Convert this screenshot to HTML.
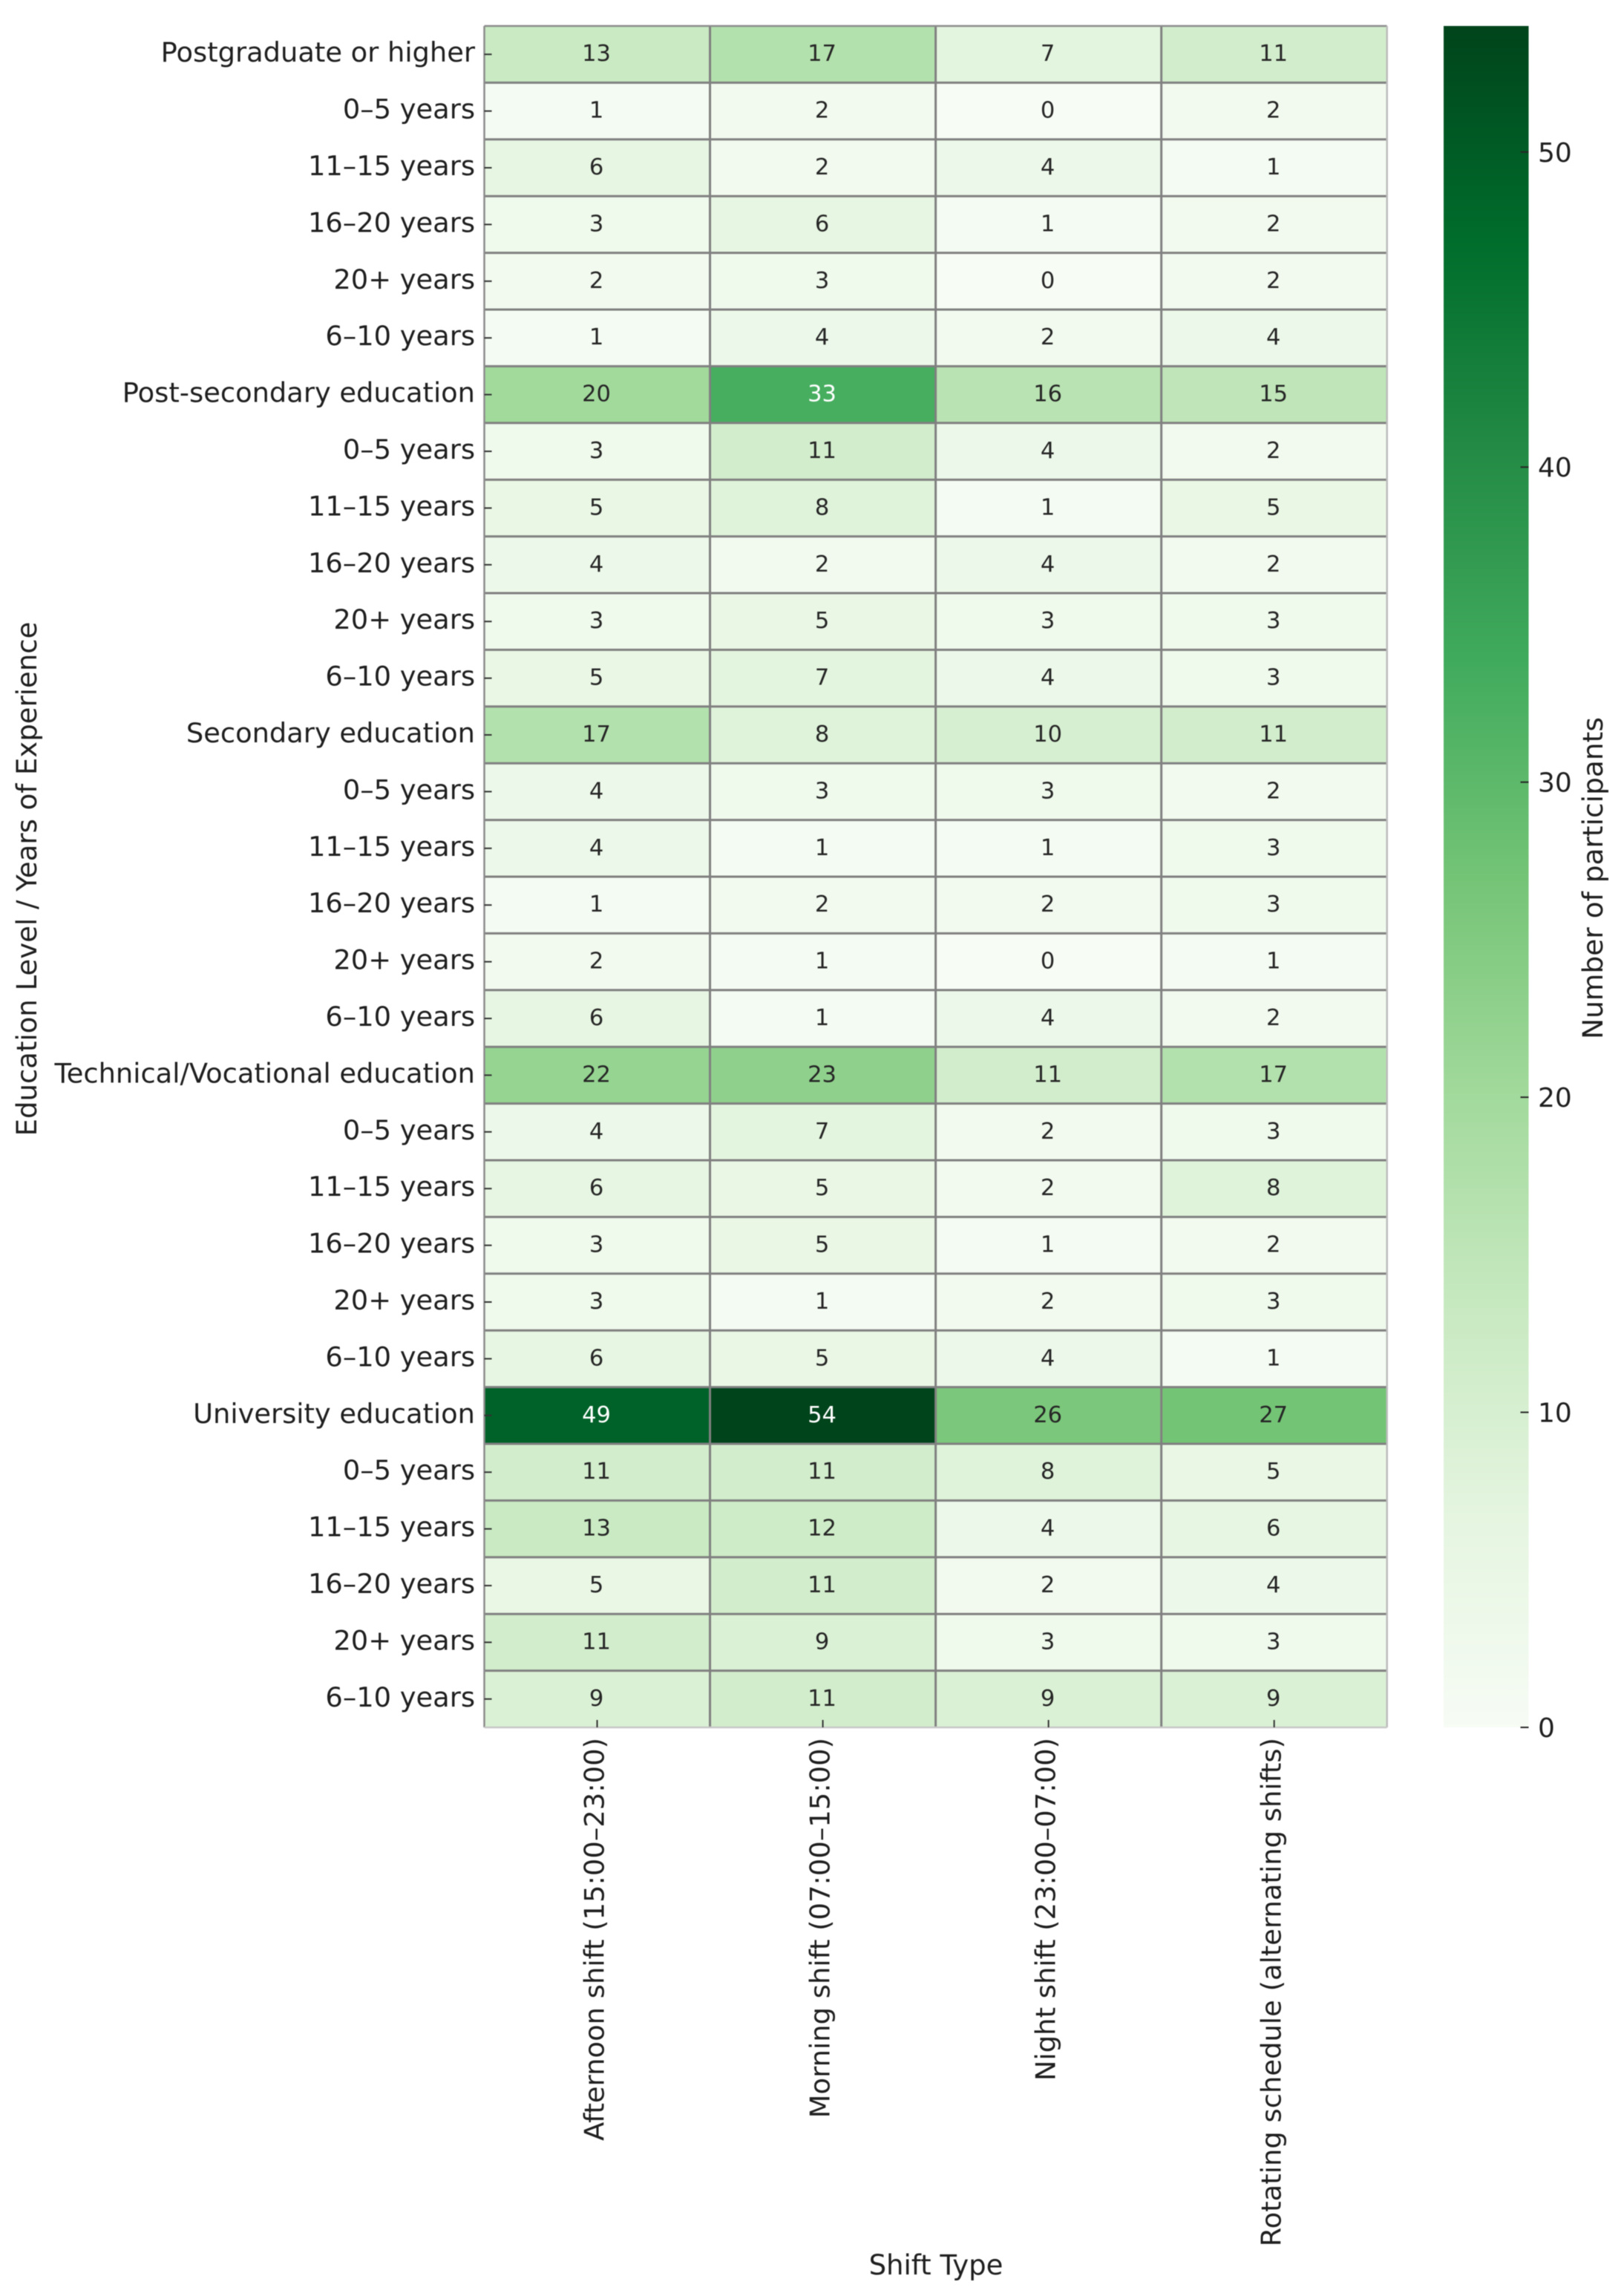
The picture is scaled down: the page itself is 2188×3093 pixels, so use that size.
<!DOCTYPE html>
<html lang="en">
<head>
<meta charset="utf-8">
<title>Participants by Education Level, Experience and Shift Type</title>
<style>
  html, body { margin: 0; padding: 0; background: #ffffff; }
  body { width: 2188px; height: 3093px; overflow: hidden; }
  svg { display: block; filter: blur(0.6px); }
  text { font-family: "DejaVu Sans", "Liberation Sans", sans-serif; fill: #1f1f1f; }
</style>
</head>
<body>
<svg id="chart" xmlns="http://www.w3.org/2000/svg" width="2188" height="3093" viewBox="0 0 2188 3093">
  <defs>
    <linearGradient id="colorbar-gradient" x1="0" y1="1" x2="0" y2="0"></linearGradient>
  </defs>
  <rect x="0" y="0" width="2188" height="3093" fill="#ffffff"></rect>
  <g id="cells"></g>
  <g id="grid"></g>
  <g id="annotations"></g>
  <g id="y-axis"></g>
  <g id="x-axis"></g>
  <text font-size="37" text-anchor="middle" transform="translate(49 1184) rotate(-90)">Education Level / Years of Experience</text>
  <text font-size="37" text-anchor="middle" x="1261" y="3064">Shift Type</text>
  <g id="colorbar"></g>
  <text font-size="37.5" text-anchor="middle" transform="translate(2159 1183) rotate(-90)">Number of participants</text>
</svg>
<script>
const rowLabels = [
  "Postgraduate or higher", "0–5 years", "11–15 years", "16–20 years", "20+ years", "6–10 years",
  "Post-secondary education", "0–5 years", "11–15 years", "16–20 years", "20+ years", "6–10 years",
  "Secondary education", "0–5 years", "11–15 years", "16–20 years", "20+ years", "6–10 years",
  "Technical/Vocational education", "0–5 years", "11–15 years", "16–20 years", "20+ years", "6–10 years",
  "University education", "0–5 years", "11–15 years", "16–20 years", "20+ years", "6–10 years"
];
const columnLabels = [
  "Afternoon shift (15:00–23:00)",
  "Morning shift (07:00–15:00)",
  "Night shift (23:00–07:00)",
  "Rotating schedule (alternating shifts)"
];
const afternoonValues = [13,1,6,3,2,1, 20,3,5,4,3,5, 17,4,4,1,2,6, 22,4,6,3,3,6, 49,11,13,5,11,9];
const morningValues   = [17,2,2,6,3,4, 33,11,8,2,5,7, 8,3,1,2,1,1, 23,7,5,5,1,5, 54,11,12,11,9,11];
const nightValues     = [7,0,4,1,0,2, 16,4,1,4,3,4, 10,3,1,2,0,4, 11,2,2,1,2,4, 26,8,4,2,3,9];
const rotatingValues  = [11,2,1,2,2,4, 15,2,5,2,3,3, 11,2,3,3,1,2, 17,3,8,2,3,1, 27,5,6,4,3,9];
const seriesValues = [afternoonValues, morningValues, nightValues, rotatingValues];
const colorbarTicks = [0, 10, 20, 30, 40, 50];
const greensPalette = ["#f7fcf5","#e5f5e0","#c7e9c0","#a1d99b","#74c476","#41ab5d","#238b45","#006d2c","#00441b"];

const SVG_NS = "http://www.w3.org/2000/svg";
const plotLeft = 652.5, plotRight = 1868.7, plotTop = 35, plotBottom = 2327;
const barLeft = 1945, barRight = 2059.5;

const cellWidth = (plotRight - plotLeft) / columnLabels.length;
const cellHeight = (plotBottom - plotTop) / rowLabels.length;
const xScale = function (col) { return plotLeft + col * cellWidth; };
const yScale = function (row) { return plotTop + row * cellHeight; };

const maxValue = Math.max.apply(null, seriesValues.map(function (s) { return Math.max.apply(null, s); }));
const colorbarScale = function (v) { return plotBottom - (v / maxValue) * (plotBottom - plotTop); };

function hexToRgb(hex) {
  return [parseInt(hex.slice(1, 3), 16), parseInt(hex.slice(3, 5), 16), parseInt(hex.slice(5, 7), 16)];
}
function colorRgb(v) {
  const t = Math.min(1, Math.max(0, v / maxValue)) * (greensPalette.length - 1);
  const i = Math.min(greensPalette.length - 2, Math.floor(t));
  const a = hexToRgb(greensPalette[i]);
  const b = hexToRgb(greensPalette[i + 1]);
  const f = t - i;
  return [0, 1, 2].map(function (k) { return Math.round(a[k] + (b[k] - a[k]) * f); });
}
function luminance(rgb) {
  const c = rgb.map(function (x) {
    const n = x / 255;
    return n <= 0.03928 ? n / 12.92 : Math.pow((n + 0.055) / 1.055, 2.4);
  });
  return 0.2126 * c[0] + 0.7152 * c[1] + 0.0722 * c[2];
}
function make(tag, parent) {
  const el = document.createElementNS(SVG_NS, tag);
  parent.appendChild(el);
  return el;
}
function setAttrs(el, attrs) {
  Object.keys(attrs).forEach(function (k) { el.setAttribute(k, attrs[k]); });
}

const cellsGroup = document.getElementById("cells");
const gridGroup = document.getElementById("grid");
const annotationGroup = document.getElementById("annotations");
const yAxisGroup = document.getElementById("y-axis");
const xAxisGroup = document.getElementById("x-axis");
const colorbarGroup = document.getElementById("colorbar");

seriesValues.forEach(function (series, c) {
  series.forEach(function (value, r) {
    const rgb = colorRgb(value);
    const cell = make("rect", cellsGroup);
    
    
    setAttrs(cell, { x: xScale(c), y: yScale(r), width: cellWidth, height: cellHeight, fill: "rgb(" + rgb.join(",") + ")" });

    const label = make("text", annotationGroup);
    
    
    setAttrs(label, { x: xScale(c + 0.5) - 1, y: yScale(r + 0.5) + 9, "font-size": 30.5, "text-anchor": "middle" });
    label.style.fill = luminance(rgb) > 0.408 ? "#262626" : "#ffffff";
    label.textContent = value;
  });
});

rowLabels.forEach(function (_, r) {
  if (r === 0) { return; }
  const line = make("line", gridGroup);
  
  
  setAttrs(line, { x1: plotLeft, x2: plotRight, y1: yScale(r), y2: yScale(r), stroke: "#808080", "stroke-width": 3 });
});
columnLabels.forEach(function (_, c) {
  if (c === 0) { return; }
  const line = make("line", gridGroup);
  
  
  setAttrs(line, { x1: xScale(c), x2: xScale(c), y1: plotTop, y2: plotBottom, stroke: "#808080", "stroke-width": 3 });
});

const borderLeft = make("line", gridGroup);


setAttrs(borderLeft, { x1: plotLeft, x2: plotLeft, y1: plotTop, y2: plotBottom, stroke: "#8c8c8c", "stroke-width": 2.5 });
const borderTop = make("line", gridGroup);


setAttrs(borderTop, { x1: plotLeft, x2: plotRight, y1: plotTop, y2: plotTop, stroke: "#8c8c8c", "stroke-width": 2.5 });
const borderRight = make("line", gridGroup);


setAttrs(borderRight, { x1: plotRight, x2: plotRight, y1: plotTop, y2: plotBottom, stroke: "#bcbcbc", "stroke-width": 2.5 });
const borderBottom = make("line", gridGroup);


setAttrs(borderBottom, { x1: plotLeft, x2: plotRight, y1: plotBottom, y2: plotBottom, stroke: "#c8c8c8", "stroke-width": 2.5 });

rowLabels.forEach(function (name, r) {
  const tick = make("line", yAxisGroup);
  
  
  setAttrs(tick, { x1: plotLeft, x2: plotLeft + 10, y1: yScale(r + 0.5), y2: yScale(r + 0.5), stroke: "#333333", "stroke-width": 2 });

  const label = make("text", yAxisGroup);
  
  
  setAttrs(label, { x: 640, y: yScale(r + 0.5) + 10, "font-size": 36.8, "text-anchor": "end" });
  label.textContent = name;
});

columnLabels.forEach(function (name, c) {
  const tick = make("line", xAxisGroup);
  
  
  setAttrs(tick, { x1: xScale(c + 0.5), x2: xScale(c + 0.5), y1: plotBottom, y2: plotBottom - 10, stroke: "#333333", "stroke-width": 2 });

  const label = make("text", xAxisGroup);
  
  
  setAttrs(label, { "font-size": 36.9, "text-anchor": "end", transform: "translate(" + (xScale(c + 0.5) + 9) + " 2341) rotate(-90)" });
  label.textContent = name;
});

const gradient = document.getElementById("colorbar-gradient");
greensPalette.forEach(function (color, i) {
  const stop = make("stop", gradient);
  setAttrs(stop, { offset: i / (greensPalette.length - 1), "stop-color": color });
});

const bar = make("rect", colorbarGroup);


setAttrs(bar, { x: barLeft, y: plotTop, width: barRight - barLeft, height: plotBottom - plotTop, fill: "url(#colorbar-gradient)" });

colorbarTicks.forEach(function (value) {
  const tick = make("line", colorbarGroup);
  
  
  setAttrs(tick, { x1: barRight - 11, x2: barRight, y1: colorbarScale(value), y2: colorbarScale(value), stroke: "#262626", "stroke-width": 2 });

  const label = make("text", colorbarGroup);
  
  
  setAttrs(label, { x: 2072, y: colorbarScale(value) + 13, "font-size": 36, "text-anchor": "start" });
  label.textContent = value;
});
</script>
</body>
</html>
